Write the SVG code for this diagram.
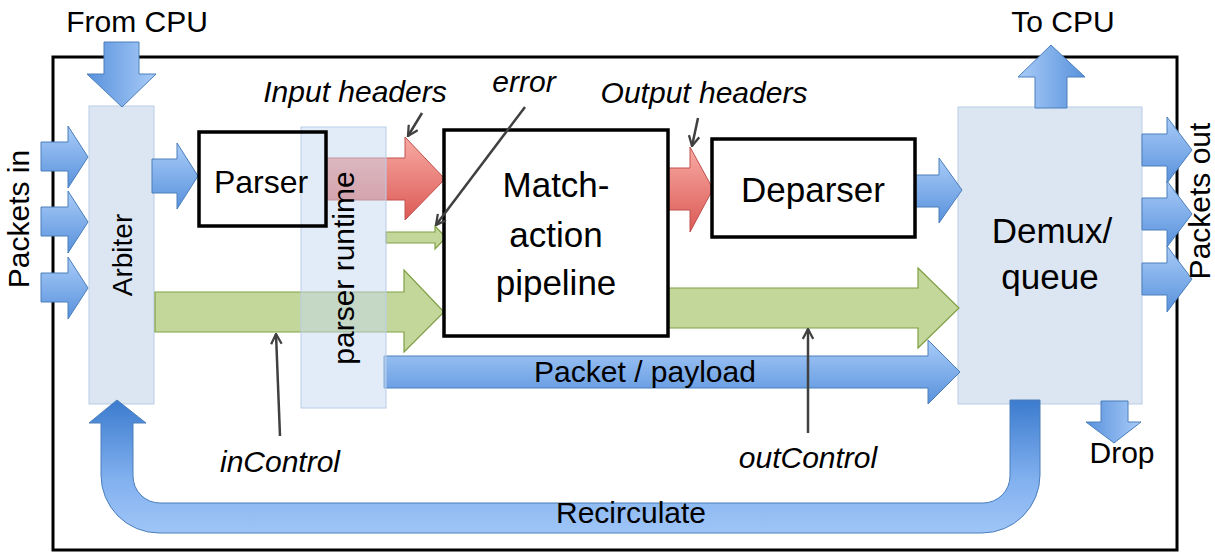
<svg xmlns="http://www.w3.org/2000/svg" width="1215" height="552" viewBox="0 0 1215 552">
<defs>
<linearGradient id="gR" x1="0" y1="0" x2="0" y2="1"><stop offset="0" stop-color="#a9ccf8"/><stop offset="1" stop-color="#5891dc"/></linearGradient>
<linearGradient id="gD" x1="0" y1="0" x2="1" y2="0"><stop offset="0" stop-color="#5891dc"/><stop offset="1" stop-color="#a9ccf8"/></linearGradient>
<linearGradient id="gU" x1="0" y1="0" x2="1" y2="0"><stop offset="0" stop-color="#a9ccf8"/><stop offset="1" stop-color="#5891dc"/></linearGradient>
<linearGradient id="gC" x1="0" y1="0" x2="0" y2="1"><stop offset="0" stop-color="#3c7bce"/><stop offset="0.6" stop-color="#82b1ef"/><stop offset="1" stop-color="#9fc5f7"/></linearGradient>
<linearGradient id="gRed" x1="0" y1="0" x2="0" y2="1"><stop offset="0" stop-color="#f8aaa4"/><stop offset="1" stop-color="#dc5a55"/></linearGradient>
<marker id="chev" viewBox="0 0 10 10" refX="9" refY="5" markerWidth="5" markerHeight="5" orient="auto" markerUnits="strokeWidth"><path d="M1,0.8 L9,5 L1,9.2" fill="none" stroke="#404040" stroke-width="1.8"/></marker>
<style>
.blue{fill:url(#gR);stroke:#4a7ebb;stroke-width:1}
.bdown{fill:url(#gD);stroke:#4a7ebb;stroke-width:1}
.bup{fill:url(#gU);stroke:#4a7ebb;stroke-width:1}
.green{fill:#c4d79b;stroke:#7f9f45;stroke-width:1.2}
.red{fill:url(#gRed);stroke:#c0504d;stroke-width:1}
.box{fill:#ffffff;stroke:#000000;stroke-width:3.5}
.pale{fill:#dce6f2;stroke:#b9cde5;stroke-width:1}
.t{font-family:"Liberation Sans",Arial,sans-serif;font-size:30px;fill:#000000}
.n{font-family:"Liberation Sans",Arial,sans-serif;font-size:35px;fill:#000000;text-anchor:middle}
.i{font-style:italic}
.ptr{stroke:#404040;stroke-width:2.5;fill:none;marker-end:url(#chev)}
</style>
</defs>
<rect id="frame" x="53" y="57" width="1124" height="493" fill="#ffffff" stroke="#000000" stroke-width="3"/>
<g id="arbiter">
<rect class="pale" x="89" y="106" width="65" height="298"/>
<text class="t" text-anchor="middle" transform="translate(132,255) rotate(-90)" style="font-size:28px">Arbiter</text>
</g>
<g id="demux">
<rect class="pale" x="958" y="107" width="184" height="297"/>
<text class="n" x="1052" y="243">Demux/</text>
<text class="n" x="1050" y="289">queue</text>
</g>
<g id="connectors">
<path class="blue" d="M41,142 H68 V126 L88,157 L68,188 V171 H41 Z"/>
<path class="blue" d="M41,207 H68 V191 L88,222 L68,253 V236 H41 Z"/>
<path class="blue" d="M41,273 H68 V257 L88,288 L68,319 V302 H41 Z"/>
<path class="bdown" d="M104,42 H139 V74 H156 L122,107 L87,74 H104 Z"/>
<path class="blue" d="M152,159 H177 V143 L198,176 L177,209 V193 H152 Z"/>
<path class="red" d="M326,158 H405 V137 L445,179 L405,220 V200 H326 Z"/>
<path class="green" d="M386,232 H435 V226 L446,237.5 L435,249 V243 H386 Z"/>
<path class="green" d="M155,292 H404 V270 L444,312 L404,352 V332 H155 Z"/>
<path class="red" d="M666,168 H690 V147 L713,189 L690,232 V210 H666 Z"/>
<path class="blue" d="M913,175 H939 V158 L962,190 L939,223 V207 H913 Z"/>
<path class="green" d="M666,288 H918 V268 L959,308 L918,348 V328 H666 Z"/>
<path class="blue" d="M384,356 H928 V340 L960,372 L928,404 V388 H384 Z"/>
<path class="bup" d="M1035,108 V77 H1018 L1051,45 L1085,77 H1067 V108 Z"/>
<path class="blue" d="M1142,134 H1167 V117 L1192,150 L1167,183 V166 H1142 Z"/>
<path class="blue" d="M1142,198 H1167 V181 L1192,214 L1167,247 V230 H1142 Z"/>
<path class="blue" d="M1142,263 H1167 V246 L1192,279 L1167,312 V295 H1142 Z"/>
<path class="bdown" d="M1101,401 H1128 V422 H1141 L1114,443 L1086,422 H1101 Z"/>
<path fill="url(#gC)" stroke="#4a7ebb" stroke-width="1" d="M1010,400 H1040 V475 A58,58 0 0 1 982,533 H159 A58,58 0 0 1 101,475 V423 H89 L117,400 L146,423 H133 V476 A27,27 0 0 0 160,503 H983 A27,27 0 0 0 1010,476 Z"/>
</g>
<g id="parser-runtime">
<rect x="301" y="127" width="85" height="281" fill="#c6d9f1" fill-opacity="0.5" stroke="#b9cde5" stroke-width="1"/>
<text class="t" text-anchor="middle" transform="translate(354,268) rotate(-90)">parser runtime</text>
</g>
<g id="parser">
<rect x="199" y="132" width="127" height="94" fill="none" stroke="#000000" stroke-width="3.5"/>
<text class="n" x="261" y="193" style="font-size:32px">Parser</text>
</g>
<g id="match-action">
<rect class="box" x="444" y="130" width="224" height="206"/>
<text class="n" x="556" y="197">Match-</text>
<text class="n" x="556" y="247">action</text>
<text class="n" x="556" y="295">pipeline</text>
</g>
<g id="deparser">
<rect class="box" x="712" y="139" width="203" height="98"/>
<text class="n" x="813" y="202">Deparser</text>
</g>
<g id="pointers">
<line class="ptr" x1="422" y1="113" x2="408" y2="136"/>
<line class="ptr" x1="525" y1="107" x2="436" y2="225"/>
<line class="ptr" x1="698" y1="118" x2="692" y2="146"/>
<line class="ptr" x1="280" y1="436" x2="276" y2="334"/>
<line class="ptr" x1="808" y1="433" x2="808" y2="329"/>
</g>
<g id="labels">
<text class="t" x="137" y="32" text-anchor="middle">From CPU</text>
<text class="t" x="1063" y="32" text-anchor="middle">To CPU</text>
<text class="t" text-anchor="middle" transform="translate(29,219) rotate(-90)">Packets in</text>
<text class="t" text-anchor="middle" transform="translate(1210,201) rotate(-90)">Packets out</text>
<text class="t" x="645" y="382" text-anchor="middle">Packet / payload</text>
<text class="t" x="631" y="523" text-anchor="middle">Recirculate</text>
<text class="t" x="1122" y="463" text-anchor="middle">Drop</text>
<text class="t i" x="280" y="472" text-anchor="middle">inControl</text>
<text class="t i" x="808" y="468" text-anchor="middle">outControl</text>
<text class="t i" x="355" y="102" text-anchor="middle">Input headers</text>
<text class="t i" x="524" y="92" text-anchor="middle">error</text>
<text class="t i" x="704" y="103" text-anchor="middle">Output headers</text>
</g>
</svg>
